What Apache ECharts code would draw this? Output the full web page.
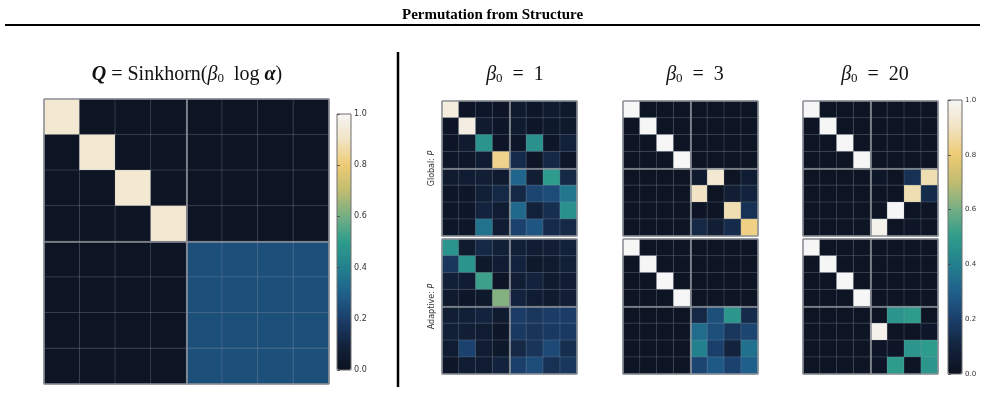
<!DOCTYPE html>
<html><head><meta charset="utf-8">
<script src="https://cdn.jsdelivr.net/npm/echarts@6/dist/echarts.min.js"></script>
<style>html,body{margin:0;padding:0;background:#fff}#c{width:985px;height:396px}</style>
</head><body><div id="c"></div>
<script>
// ---------- data ----------
const cats = ['0','1','2','3','4','5','6','7'];
const cbTicks = ['0.0','0.2','0.4','0.6','0.8','1.0'];
const panelTitles = ['1','3','20'];
const rowLabels = ['Global', 'Adaptive'];

const Q = [
  [0.93,0.01,0.01,0.01,0.01,0.01,0.01,0.01],
  [0.01,0.93,0.01,0.01,0.01,0.01,0.01,0.01],
  [0.01,0.01,0.93,0.01,0.01,0.01,0.01,0.01],
  [0.01,0.01,0.01,0.93,0.01,0.01,0.01,0.01],
  [0.01,0.01,0.01,0.01,0.25,0.25,0.25,0.25],
  [0.01,0.01,0.01,0.01,0.25,0.25,0.25,0.25],
  [0.01,0.01,0.01,0.01,0.25,0.25,0.25,0.25],
  [0.01,0.01,0.01,0.01,0.25,0.25,0.25,0.25]
];
const globalB1 = [
  [0.95,0.02,0.03,0.02,0.05,0.03,0.05,0.04],
  [0.02,0.96,0.05,0.03,0.05,0.03,0.04,0.04],
  [0.02,0.05,0.47,0.02,0.03,0.46,0.03,0.09],
  [0.03,0.03,0.06,0.83,0.13,0.02,0.12,0.03],
  [0.05,0.06,0.07,0.05,0.32,0.07,0.50,0.12],
  [0.03,0.03,0.08,0.12,0.12,0.22,0.24,0.37],
  [0.03,0.03,0.10,0.06,0.33,0.09,0.14,0.46],
  [0.03,0.03,0.36,0.06,0.21,0.27,0.13,0.12]
];
const adaptiveB1 = [
  [0.47,0.05,0.12,0.08,0.08,0.06,0.07,0.09],
  [0.17,0.47,0.04,0.06,0.10,0.04,0.05,0.08],
  [0.08,0.06,0.52,0.02,0.07,0.10,0.05,0.06],
  [0.05,0.03,0.04,0.62,0.10,0.06,0.05,0.07],
  [0.07,0.08,0.10,0.05,0.19,0.17,0.19,0.19],
  [0.08,0.07,0.06,0.03,0.18,0.16,0.18,0.18],
  [0.06,0.21,0.06,0.04,0.12,0.16,0.23,0.14],
  [0.03,0.06,0.06,0.10,0.20,0.24,0.15,0.17]
];
const globalB3 = [
  [1.00,0.01,0.01,0.01,0.01,0.01,0.01,0.01],
  [0.01,1.00,0.01,0.01,0.01,0.01,0.01,0.01],
  [0.01,0.01,1.00,0.01,0.01,0.01,0.01,0.01],
  [0.01,0.01,0.01,1.00,0.01,0.01,0.01,0.01],
  [0.01,0.01,0.01,0.01,0.05,0.93,0.01,0.06],
  [0.01,0.01,0.01,0.01,0.90,0.01,0.07,0.10],
  [0.01,0.01,0.01,0.01,0.02,0.01,0.88,0.15],
  [0.01,0.01,0.01,0.01,0.12,0.07,0.13,0.82]
];
const adaptiveB3 = [
  [1.00,0.01,0.01,0.01,0.01,0.01,0.01,0.01],
  [0.01,1.00,0.01,0.01,0.01,0.01,0.01,0.01],
  [0.01,0.01,1.00,0.01,0.01,0.01,0.01,0.01],
  [0.01,0.01,0.01,1.00,0.01,0.01,0.01,0.01],
  [0.01,0.01,0.01,0.01,0.12,0.25,0.48,0.13],
  [0.01,0.01,0.01,0.01,0.34,0.25,0.17,0.22],
  [0.01,0.01,0.01,0.01,0.40,0.20,0.10,0.35],
  [0.01,0.01,0.01,0.01,0.22,0.28,0.21,0.30]
];
const globalB20 = [
  [1.00,0.01,0.01,0.01,0.01,0.01,0.01,0.01],
  [0.01,1.00,0.01,0.01,0.01,0.01,0.01,0.01],
  [0.01,0.01,1.00,0.01,0.01,0.01,0.01,0.01],
  [0.01,0.01,0.01,1.00,0.01,0.01,0.01,0.01],
  [0.01,0.01,0.01,0.01,0.03,0.01,0.15,0.88],
  [0.01,0.01,0.01,0.01,0.01,0.01,0.88,0.13],
  [0.01,0.01,0.01,0.01,0.01,1.00,0.01,0.01],
  [0.01,0.01,0.01,0.01,0.98,0.01,0.02,0.01]
];
const adaptiveB20 = [
  [1.00,0.01,0.01,0.01,0.01,0.01,0.01,0.01],
  [0.01,1.00,0.01,0.01,0.01,0.01,0.01,0.01],
  [0.01,0.01,1.00,0.01,0.01,0.01,0.01,0.01],
  [0.01,0.01,0.01,1.00,0.01,0.01,0.01,0.01],
  [0.01,0.01,0.01,0.01,0.01,0.47,0.50,0.01],
  [0.01,0.01,0.01,0.01,0.98,0.01,0.01,0.03],
  [0.01,0.01,0.01,0.01,0.02,0.02,0.48,0.50],
  [0.01,0.01,0.01,0.01,0.02,0.50,0.01,0.48]
];

// ---------- styling / layout ----------
const cmap = ['#0c1220','#13233d','#1b3f6b','#1f5f8b','#23808e','#2e9c8c','#74ae84','#c0bc70','#eecb74','#f1e3c3','#f6f6f6'];
const panels = [
  {m: Q,           left: 44,  top: 99,  size: 285},
  {m: globalB1,    left: 442, top: 101, size: 135, row: 0},
  {m: globalB3,    left: 623, top: 101, size: 135},
  {m: globalB20,   left: 803, top: 101, size: 135},
  {m: adaptiveB1,  left: 442, top: 239, size: 135, row: 1},
  {m: adaptiveB3,  left: 623, top: 239, size: 135},
  {m: adaptiveB20, left: 803, top: 239, size: 135}
];
const cbars = [
  {left: 337, top: 114, w: 14, h: 256, fs: 8},
  {left: 948, top: 100, w: 14, h: 274, fs: 7}
];

function toData(m){
  const out = [];
  m.forEach((row, r) => row.forEach((v, c) => out.push([c, r, v])));
  return out;
}

const grid = [], xAxis = [], yAxis = [], series = [];
panels.forEach((p, i) => {
  grid.push({left: p.left, top: p.top, width: p.size, height: p.size});
  xAxis.push({type: 'category', data: cats, gridIndex: i, show: false, position: 'top'});
  xAxis.push({type: 'value', gridIndex: i, min: 0, max: 8, interval: 4, z: 10, position: 'bottom',
    axisLine: {show: false}, axisTick: {show: false}, axisLabel: {show: false},
    splitLine: {show: true, lineStyle: {color: '#8e9299', width: 1.6}}});
  yAxis.push({type: 'category', data: cats, gridIndex: i, inverse: true, show: false, position: 'right'});
  const yv = {type: 'value', gridIndex: i, min: 0, max: 8, interval: 4, z: 10, position: 'left',
    axisLine: {show: false}, axisTick: {show: false}, axisLabel: {show: false},
    splitLine: {show: true, lineStyle: {color: '#8e9299', width: 1.6}}};
  if (p.row !== undefined) {
    yv.name = rowLabels[p.row] + ': {i|P}';
    yv.nameLocation = 'middle';
    yv.nameGap = 6;
    yv.nameRotate = 90;
    yv.nameTextStyle = {fontFamily: 'DejaVu Sans', fontSize: 8, color: '#333',
      rich: {i: {fontStyle: 'italic', fontFamily: 'DejaVu Sans', fontSize: 8, color: '#333'}}};
  }
  yAxis.push(yv);
  series.push({
    type: 'heatmap', xAxisIndex: 2*i, yAxisIndex: 2*i, data: toData(p.m),
    itemStyle: {borderColor: 'rgba(150,160,178,0.25)', borderWidth: 1},
    emphasis: {disabled: true}, silent: true
  });
});
cbars.forEach((cb, k) => {
  const gi = panels.length + k;
  grid.push({left: cb.left, top: cb.top, width: cb.w, height: cb.h, show: true,
    borderColor: '#6e6e6e', borderWidth: 1, backgroundColor: 'transparent', z: 6});
  xAxis.push({type: 'value', gridIndex: gi, min: 0, max: 1, show: false});
  yAxis.push({type: 'value', gridIndex: gi, min: 0, max: 1, interval: 0.2, position: 'right', z: 6,
    axisLine: {show: false}, splitLine: {show: false},
    axisTick: {show: true, length: 3, lineStyle: {color: '#444', width: 0.8}},
    axisLabel: {margin: 3, fontSize: cb.fs, color: '#333', fontFamily: 'DejaVu Sans',
      formatter: (v) => cbTicks[Math.round(v / 0.2)]}});
});

const visualMap = [
  {type: 'continuous', min: 0, max: 1, seriesIndex: [0], left: cbars[0].left, top: cbars[0].top,
   itemWidth: cbars[0].w, itemHeight: cbars[0].h, padding: 0, calculable: false, hoverLink: false,
   inRange: {color: cmap}},
  {type: 'continuous', min: 0, max: 1, seriesIndex: [1,2,3,4,5,6], left: cbars[1].left, top: cbars[1].top,
   itemWidth: cbars[1].w, itemHeight: cbars[1].h, padding: 0, calculable: false, hoverLink: false,
   inRange: {color: cmap}}
];

const serif = 'Liberation Serif';
const mathRich = {
  n: {fontFamily: serif, fontSize: 20, color: '#111', fontWeight: 'normal'},
  b: {fontFamily: serif, fontSize: 20, color: '#111', fontStyle: 'italic', fontWeight: 'bold'},
  it: {fontFamily: serif, fontSize: 20, color: '#111', fontStyle: 'italic', fontWeight: 'normal'},
  s: {fontFamily: serif, fontSize: 13, color: '#111', fontWeight: 'normal', padding: [8, 0, 0, 0]}
};
const title = [
  {text: 'Permutation from Structure', left: 'center', top: 3,
   textStyle: {fontFamily: serif, fontWeight: 'bold', fontSize: 15, color: '#000'}},
  {text: '{b|Q}{n| = Sinkhorn(}{it|β}{s|0}{n|  log }{b|α}{n|)}', left: 182, textAlign: 'center', top: 59,
   textStyle: {fontWeight: 'normal', rich: mathRich}}
];
const titleX = [510, 690, 870];
panelTitles.forEach((t, k) => {
  title.push({text: '{it|β}{s|0}{n|  =  ' + t + '}', left: titleX[k], textAlign: 'center', top: 59,
    textStyle: {fontWeight: 'normal', rich: mathRich}});
});

const chart = echarts.init(document.getElementById('c'), null, {renderer: 'canvas'});
chart.setOption({
  animation: false,
  backgroundColor: '#fff',
  title, grid, xAxis, yAxis, series, visualMap,
  graphic: [
    {type: 'line', shape: {x1: 5, y1: 25, x2: 980, y2: 25}, style: {stroke: '#000', lineWidth: 2}, z: 20},
    {type: 'line', shape: {x1: 398, y1: 52, x2: 398, y2: 387}, style: {stroke: '#000', lineWidth: 2.5}, z: 20}
  ]
});
</script></body></html>
